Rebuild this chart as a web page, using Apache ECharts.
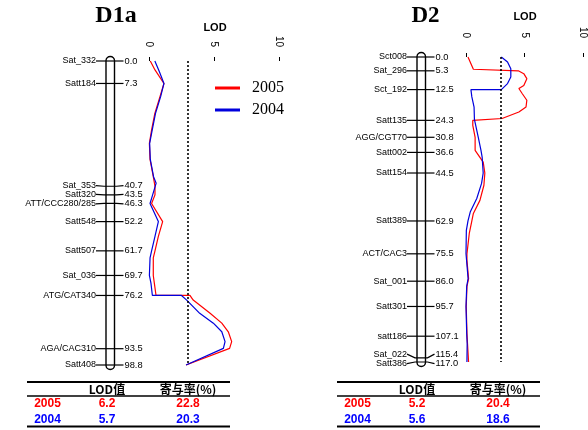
<!DOCTYPE html>
<html lang="en">
<head>
<meta charset="UTF-8" />
<title>D1a / D2 LOD</title>
<style>html,body{margin:0;padding:0;background:#fff}#chart{width:588px;height:430px}</style>
</head>
<body>
<div id="chart"></div>
<script src="https://cdn.jsdelivr.net/npm/echarts@6/dist/echarts.min.js"></script>
<script>
// linkage groups: marker names and positions (cM)
const d1aMarkers = ['Sat_332', 'Satt184', 'Sat_353', 'Satt320', 'ATT/CCC280/285', 'Satt548', 'Satt507', 'Sat_036', 'ATG/CAT340', 'AGA/CAC310', 'Satt408']
const d1aPos = [0.0, 7.3, 40.7, 43.5, 46.3, 52.2, 61.7, 69.7, 76.2, 93.5, 98.8]
const d2Markers = ['Sct008', 'Sat_296', 'Sct_192', 'Satt135', 'AGG/CGT70', 'Satt002', 'Satt154', 'Satt389', 'ACT/CAC3', 'Sat_001', 'Satt301', 'satt186', 'Sat_022', 'Satt386']
const d2Pos = [0.0, 5.3, 12.5, 24.3, 30.8, 36.6, 44.5, 62.9, 75.5, 86.0, 95.7, 107.1, 115.4, 117.0]

// LOD profiles (cM, LOD)
const d1aCm2005 = [0, 2.9, 7.3, 11.5, 17, 22.4, 26.8, 32, 37.6, 40.7, 43.5, 46.3, 52.2, 57, 61.7, 64, 69.7, 72.2, 76.2, 76.2, 77.7, 82, 85.2, 88, 91.2, 93.4, 98.8]
const d1aLod2005 = [0.1, 0.46, 1.15, 0.85, 0.45, 0.2, 0.03, 0.08, 0.33, 0.46, 0.46, 0.2, 1.05, 0.72, 0.46, 0.33, 0.33, 0.41, 0.54, 3.15, 3.4, 4.7, 5.6, 6.1, 6.36, 6.2, 2.85]
const d1aCm2004 = [0, 3.5, 7.3, 11.5, 17, 22.4, 26.8, 32, 37.6, 39.7, 43.5, 46.3, 52.2, 57, 61.7, 64, 69.7, 72.2, 76.2, 76.2, 77.7, 82, 85.2, 88, 91.2, 93.4, 98.8]
const d1aLod2004 = [0.45, 0.8, 1.15, 0.9, 0.5, 0.25, 0.05, 0.1, 0.35, 0.55, 0.28, 0.08, 0.72, 0.46, 0.2, 0.08, 0.03, 0.15, 0.26, 2.5, 2.9, 3.9, 4.95, 5.6, 5.85, 5.72, 2.85]

const d2Cm2005 = [0, 4.7, 5.3, 5.3, 6.4, 8.3, 10.9, 12.1, 14, 16.6, 19.2, 21.1, 23.6, 24.3, 24.3, 26.2, 30.8, 35.8, 40.3, 44.5, 49.2, 55, 60, 62.9, 67.7, 75.5, 78, 85, 88, 95.7, 106, 110, 117]
const d2Lod2005 = [0.17, 0.63, 0.63, 4.47, 4.94, 5.2, 4.94, 4.52, 4.8, 5.2, 5.13, 4.52, 3.08, 3.0, 0.58, 0.58, 0.78, 0.78, 1.47, 1.61, 1.53, 1.19, 0.63, 0.5, 0.28, 0.08, 0.08, 0.22, 0.08, 0.02, 0.08, 0.13, 0.22]
const d2Cm2004 = [0, 1.9, 4.5, 7.7, 10.2, 12.5, 12.5, 15.3, 19.2, 23.9, 30.8, 35.8, 38.4, 44.5, 48.5, 54.3, 59.5, 62.9, 66.5, 75.5, 78, 85, 88, 95.7, 106, 110, 117]
const d2Lod2004 = [3.02, 3.55, 3.83, 3.83, 3.55, 3.02, 0.42, 0.5, 0.69, 0.72, 1.05, 1.28, 1.38, 1.47, 1.33, 0.92, 0.36, 0.17, 0.03, 0.0, 0.05, 0.18, 0.06, 0.0, 0.06, 0.1, 0.08]

const lodThreshold = 3.0

// summary tables
const years = ['2005', '2004']
const tableHeader = ['LOD值', '寄与率(%)']
const d1aPeakLod = ['6.2', '5.7']
const d1aR2 = ['22.8', '20.3']
const d2PeakLod = ['5.2', '5.6']
const d2R2 = ['20.4', '18.6']

const RED = '#ff0000'
const BLUE = '#0000dd'
const SANS = '"Liberation Sans", Arial, sans-serif'
const SERIF = '"Liberation Serif", "Times New Roman", serif'
const CJK = '"Noto Sans CJK JP", "Noto Sans CJK SC", sans-serif'

function zip(xs, ys) {
  return xs.map((x, i) => [ys[i], x])
}

// chromosome bar + marker ticks and labels, placed on the cM axis
function chromosome(idx, names, pos, offset) {
  return {
    type: 'custom',
    xAxisIndex: idx,
    yAxisIndex: idx,
    silent: true,
    clip: false,
    z: 5,
    data: [[0, pos[pos.length - 1]]],
    renderItem: function (params, api) {
      const top = api.coord([0, pos[0]])
      const bot = api.coord([0, pos[pos.length - 1]])
      const cw = 8.5
      const cl = top[0] - offset
      const cr = cl + cw
      const kids = [{
        type: 'rect',
        shape: { x: cl, y: top[1] - 4.5, width: cw, height: bot[1] - top[1] + 9, r: cw / 2 },
        style: { fill: '#fff', stroke: '#000', lineWidth: 1.4 }
      }]
      const ys = pos.map(p => api.coord([0, p])[1])
      const ly = ys.slice()
      for (let i = 1; i < ly.length; i++) {
        const gap = 9.5 - (ly[i] - ly[i - 1])
        if (gap > 0) { ly[i - 1] -= gap * 0.7; ly[i] += gap * 0.3 }
      }
      pos.forEach((p, i) => {
        kids.push({
          type: 'polyline',
          shape: { points: [[cl - 10, ly[i]], [cl - 2, ys[i]], [cr + 2, ys[i]], [cr + 9, ly[i]]] },
          style: { stroke: '#000', lineWidth: 1.2, fill: null }
        })
        kids.push({
          type: 'text',
          style: { text: names[i], x: cl - 10, y: ly[i], align: 'right', verticalAlign: 'middle', fontSize: 9, fontFamily: SANS, fill: '#000' }
        })
        kids.push({
          type: 'text',
          style: { text: p.toFixed(1), x: cr + 10, y: ly[i], align: 'left', verticalAlign: 'middle', fontSize: 9.3, fontFamily: SANS, fill: '#000' }
        })
      })
      return { type: 'group', children: kids }
    }
  }
}

function lodCurve(idx, name, cm, lod, color, withThreshold) {
  const s = {
    type: 'line',
    name: name,
    xAxisIndex: idx,
    yAxisIndex: idx,
    data: zip(cm, lod),
    symbol: 'none',
    clip: false,
    z: 3,
    lineStyle: { color: color, width: 1.2 },
    itemStyle: { color: color }
  }
  if (withThreshold) {
    s.markLine = {
      silent: true,
      symbol: 'none',
      label: { show: false },
      lineStyle: { color: '#000', type: [2, 2], width: 1.6 },
      data: [{ xAxis: lodThreshold }]
    }
  }
  return s
}

function lodAxis(idx, margin) {
  return {
    gridIndex: idx,
    type: 'value',
    position: 'top',
    min: 0,
    max: 10,
    interval: 5,
    axisLine: { show: false },
    splitLine: { show: false },
    axisTick: { show: true, length: 4, lineStyle: { color: '#000', width: 1 } },
    axisLabel: { rotate: -90, margin: margin, fontSize: 10, fontFamily: SANS, color: '#000', showMaxLabel: true, showMinLabel: true }
  }
}

function table(x0, x1, cols, lods, r2s) {
  const g = []
  g.push({ type: 'line', shape: { x1: x0, y1: 382, x2: x1, y2: 382 }, style: { stroke: '#000', lineWidth: 2.2 } })
  g.push({ type: 'line', shape: { x1: x0, y1: 396, x2: x1, y2: 396 }, style: { stroke: '#000', lineWidth: 1.6 } })
  g.push({ type: 'line', shape: { x1: x0, y1: 426.5, x2: x1, y2: 426.5 }, style: { stroke: '#000', lineWidth: 2.2 } })
  tableHeader.forEach((h, i) => {
    g.push({ type: 'text', style: { text: h, x: cols[i + 1], y: 389, align: 'center', verticalAlign: 'middle', fontSize: 12, fontWeight: 'bold', fontFamily: CJK, fill: '#000' } })
  })
  const rowY = [404, 420]
  years.forEach((yr, r) => {
    const c = r === 0 ? RED : '#0000ff'
    const vals = [yr, lods[r], r2s[r]]
    vals.forEach((v, i) => {
      g.push({ type: 'text', style: { text: v, x: cols[i], y: rowY[r], align: 'center', verticalAlign: 'middle', fontSize: 12, fontWeight: 'bold', fontFamily: SANS, fill: c } })
    })
  })
  return g
}

const chart = echarts.init(document.getElementById('chart'), null, { renderer: 'canvas' })

const option = {
  animation: false,
  backgroundColor: '#fff',
  grid: [
    { left: 149, top: 61, width: 130, height: 304 },
    { left: 466, top: 57, width: 120, height: 305 }
  ],
  xAxis: [lodAxis(0, 14), lodAxis(1, 19)],
  yAxis: [
    { gridIndex: 0, type: 'value', inverse: true, min: 0, max: 98.8, show: false },
    { gridIndex: 1, type: 'value', inverse: true, min: 0, max: 117, show: false }
  ],
  legend: {
    data: ['2005', '2004'],
    orient: 'vertical',
    left: 215,
    top: 80,
    padding: 0,
    icon: 'rect',
    itemWidth: 25,
    itemHeight: 3,
    itemGap: 6,
    textStyle: { fontFamily: SERIF, fontSize: 16, color: '#000', padding: [0, 0, 0, 7] }
  },
  graphic: [
    { type: 'text', style: { text: 'D1a', x: 116, y: 16, align: 'center', verticalAlign: 'middle', fontSize: 24, fontWeight: 'bold', fontFamily: SERIF, fill: '#000' } },
    { type: 'text', style: { text: 'D2', x: 425.5, y: 16, align: 'center', verticalAlign: 'middle', fontSize: 23, fontWeight: 'bold', fontFamily: SERIF, fill: '#000' } },
    { type: 'text', style: { text: 'LOD', x: 215, y: 28, align: 'center', verticalAlign: 'middle', fontSize: 11, fontWeight: 'bold', fontFamily: SANS, fill: '#000' } },
    { type: 'text', style: { text: 'LOD', x: 525, y: 16.5, align: 'center', verticalAlign: 'middle', fontSize: 11, fontWeight: 'bold', fontFamily: SANS, fill: '#000' } }
  ].concat(
    table(27, 230, [47.5, 107, 188], d1aPeakLod, d1aR2),
    table(337, 540, [357.5, 417, 498], d2PeakLod, d2R2)
  ),
  series: [
    chromosome(0, d1aMarkers, d1aPos, 43),
    lodCurve(0, '2005', d1aCm2005, d1aLod2005, RED, true),
    lodCurve(0, '2004', d1aCm2004, d1aLod2004, BLUE, false),
    chromosome(1, d2Markers, d2Pos, 49),
    lodCurve(1, '2005', d2Cm2005, d2Lod2005, RED, true),
    lodCurve(1, '2004', d2Cm2004, d2Lod2004, BLUE, false)
  ]
}
chart.setOption(option)
</script>
</body>
</html>
